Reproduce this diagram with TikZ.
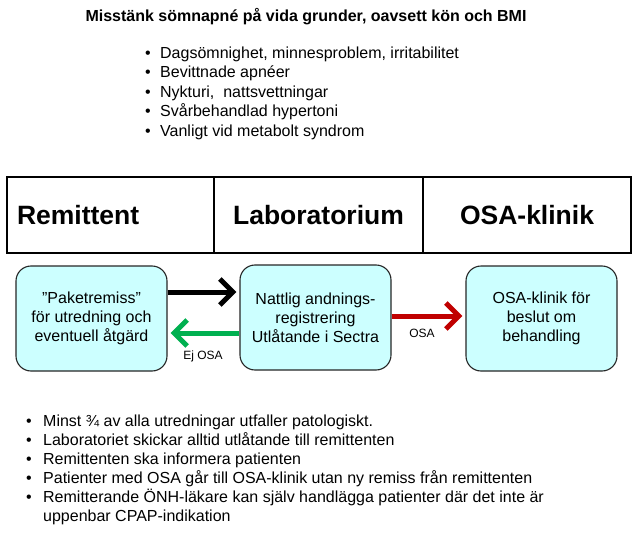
\documentclass[tikz,border=0pt]{standalone}
\usepackage{fontspec}
\setmainfont{Liberation Sans}
\usetikzlibrary{arrows.meta}
\definecolor{boxfill}{HTML}{CCFFFF}
\definecolor{arrgreen}{HTML}{00B050}
\definecolor{arrred}{HTML}{C00000}
\newcommand\myitem[2]{\makebox[#1][l]{•}#2}
\begin{document}
\begin{tikzpicture}[x=1pt,y=-1pt,
  procbox/.style={draw=black!85, line width=1.1pt, fill=boxfill, rounded corners=15pt,
    minimum width=151pt, minimum height=105pt, align=center, inner sep=0pt,
    font=\fontsize{16}{19}\selectfont},
  hcell/.style={draw=black, line width=1.3pt, minimum height=76pt, inner sep=0pt,
    font=\bfseries\fontsize{26.5}{30}\selectfont},
  bul/.style={font=\fontsize{16}{19}\selectfont, anchor=base west, inner sep=0pt},
  flow/.style={line width=5pt, -{Straight Barb[length=13pt,width=26pt]}},
  lbl/.style={font=\fontsize{12}{14}\selectfont, inner sep=0pt}]
\useasboundingbox (0,0) rectangle (632,535);

% title
\node[font=\bfseries\fontsize{16}{19}\selectfont, anchor=base, inner sep=0pt] (title) at (306,21.5)
  {Misstänk sömnapné på vida grunder, oavsett kön och BMI};

% top bullets
\node[bul] (t1) at (145,58.5) {\myitem{15pt}{Dagsömnighet, minnesproblem, irritabilitet}};
\node[bul] (t2) at (145,77.9) {\myitem{15pt}{Bevittnade apnéer}};
\node[bul] (t3) at (145,97.3) {\myitem{15pt}{Nykturi,\ \ nattsvettningar}};
\node[bul] (t4) at (145,116.7) {\myitem{15pt}{Svårbehandlad hypertoni}};
\node[bul] (t5) at (145,136.1) {\myitem{15pt}{Vanligt vid metabolt syndrom}};

% header cells
\node[hcell, minimum width=207pt, text width=187pt, align=left, inner xsep=10pt] (h1) at (110.5,215) {Remittent};
\node[hcell, minimum width=209pt] (h2) at (318.5,215) {Laboratorium};
\node[hcell, minimum width=208pt] (h3) at (527,215) {OSA-klinik};

% process boxes
\node[procbox] (b1) at (91.5,318.5) {”Paketremiss”\\för utredning och\\eventuell åtgärd};
\node[procbox] (b2) at (315.5,317.5) {Nattlig andnings-\\registrering\\Utlåtande i Sectra};
\node[procbox] (b3) at (541.5,318.5) {OSA-klinik för\\beslut om\\behandling};

% arrows
\coordinate (yk) at (0,292);
\coordinate (yg) at (0,333);
\coordinate (yr) at (0,316);
\draw[flow, black] (b1.east |- yk) -- ([xshift=-3pt]b2.west |- yk);
\draw[flow, arrgreen] (b2.west |- yg) -- ([xshift=3pt]b1.east |- yg);
\draw[flow, arrred] (b2.east |- yr) -- ([xshift=-3pt]b3.west |- yr);
\node[lbl] (ej) at (203,356) {Ej OSA};
\node[lbl] (osa) at (422,333) {OSA};

% bottom bullets
\node[bul] (s1) at (26,426.5) {\myitem{17pt}{Minst ¾ av alla utredningar utfaller patologiskt.}};
\node[bul] (s2) at (26,445.5) {\myitem{17pt}{Laboratoriet skickar alltid utlåtande till remittenten}};
\node[bul] (s3) at (26,464.5) {\myitem{17pt}{Remittenten ska informera patienten}};
\node[bul] (s4) at (26,483.5) {\myitem{17pt}{Patienter med OSA går till OSA-klinik utan ny remiss från remittenten}};
\node[bul] (s5) at (26,502.5) {\myitem{17pt}{Remitterande ÖNH-läkare kan själv handlägga patienter där det inte är}};
\node[bul] (s6) at (43,521.5) {uppenbar CPAP-indikation};
\end{tikzpicture}
\end{document}
